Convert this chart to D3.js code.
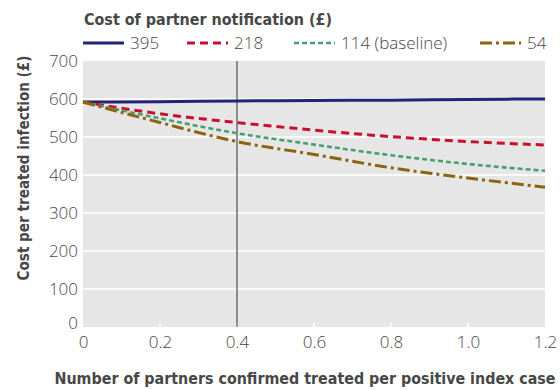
<!DOCTYPE html>
<html><head><meta charset="utf-8">
<script src="https://cdn.jsdelivr.net/npm/d3@7/dist/d3.min.js"></script>
<style>body{margin:0;background:#fff}</style>
</head><body><svg id="c" width="560" height="390"></svg>
<script>
const xValues = [0, 0.2, 0.4, 0.6, 0.8, 1.0, 1.2];
const cost395 = [592, 593, 595, 596, 597, 599, 600];
const cost218 = [592, 561, 538, 518, 501, 488, 479];
const cost114 = [592, 549, 510, 480, 452, 429, 411];
const cost54  = [592, 538, 488, 454, 419, 392, 368];
const seriesNames = ["395", "218", "114 (baseline)", "54"];
const xTicks = [0, 0.2, 0.4, 0.6, 0.8, 1.0, 1.2];
const xTickLabels = ["0", "0.2", "0.4", "0.6", "0.8", "1.0", "1.2"];
const yTicks = [0, 100, 200, 300, 400, 500, 600, 700];
const refLineX = 0.4;

const series = [
  {name: seriesNames[0], values: cost395, color: "#23237a", dash: null, width: 3},
  {name: seriesNames[1], values: cost218, color: "#c8102e", dash: "8,5", width: 3},
  {name: seriesNames[2], values: cost114, color: "#47a06e", dash: "5,3", width: 2.6},
  {name: seriesNames[3], values: cost54,  color: "#8b6410", dash: "12,4,3,4", width: 3}
];

const svg = d3.select("#c");
const x = d3.scaleLinear().domain([0, 1.2]).range([83, 545]);
const y = d3.scaleLinear().domain([0, 700]).range([327, 61]);
const txt = "#474747";
const font = "'Open Sans', sans-serif";
const bold = "'DejaVu Sans Condensed', 'DejaVu Sans', sans-serif";

svg.append("rect").attr("x", x(0)).attr("y", y(700)).attr("width", x(1.2) - x(0)).attr("height", y(0) - y(700)).attr("fill", "#e6e6e6");

// gridlines
svg.append("g").selectAll("line").data(yTicks.filter(d => d > 0 && d < 700)).join("line")
  .attr("x1", x(0)).attr("x2", x(1.2)).attr("y1", d => y(d)).attr("y2", d => y(d))
  .attr("stroke", "#fff").attr("stroke-width", 1.5);

// x tick marks (white, inside)
svg.append("g").selectAll("line").data(xTicks.filter(d => d > 0 && d < 1.2)).join("line")
  .attr("x1", d => x(d)).attr("x2", d => x(d)).attr("y1", y(0)).attr("y2", y(0) - 4)
  .attr("stroke", "#fff").attr("stroke-width", 1.5);

// reference line
svg.append("line").attr("x1", x(refLineX)).attr("x2", x(refLineX)).attr("y1", y(700)).attr("y2", y(0))
  .attr("stroke", "#333").attr("stroke-width", 1);

// axes labels via d3 axes
const xAxis = d3.axisBottom(x).tickValues(xTicks).tickFormat((d, i) => xTickLabels[i]).tickSize(0).tickPadding(9);
const gx = svg.append("g").attr("transform", `translate(0,${y(0)})`).call(xAxis);
gx.select(".domain").remove();
gx.selectAll("text").attr("font-family", font).attr("font-weight", 300).attr("font-size", 17).attr("fill", txt);

const yAxis = d3.axisLeft(y).tickValues(yTicks).tickSize(0).tickPadding(5);
const gy = svg.append("g").attr("transform", `translate(${x(0)},0)`).call(yAxis);
gy.select(".domain").remove();
gy.selectAll("text").attr("font-family", font).attr("font-weight", 300).attr("font-size", 17).attr("fill", txt);
gy.selectAll(".tick").filter(d => d === 0).select("text").attr("dy", "0.1em");

// lines
const line = d3.line().x((d, i) => x(xValues[i])).y(d => y(d)).curve(d3.curveMonotoneX);
svg.append("g").selectAll("path").data(series).join("path")
  .attr("d", d => line(d.values)).attr("fill", "none")
  .attr("stroke", d => d.color).attr("stroke-width", d => d.width)
  .attr("stroke-dasharray", d => d.dash);

// axis titles
svg.append("text").attr("transform", `translate(29,168) rotate(-90)`).attr("text-anchor", "middle")
  .attr("font-family", bold).attr("font-weight", "bold").attr("font-size", 16.5).attr("fill", txt)
  .attr("textLength", 225).attr("lengthAdjust", "spacingAndGlyphs")
  .text("Cost per treated infection (£)");
svg.append("text").attr("x", 305).attr("y", 384).attr("text-anchor", "middle")
  .attr("font-family", bold).attr("font-weight", "bold").attr("font-size", 16).attr("fill", txt)
  .attr("textLength", 501).attr("lengthAdjust", "spacingAndGlyphs")
  .text("Number of partners confirmed treated per positive index case");

// legend
svg.append("text").attr("x", 84).attr("y", 25)
  .attr("font-family", bold).attr("font-weight", "bold").attr("font-size", 16.5).attr("fill", txt)
  .attr("textLength", 248).attr("lengthAdjust", "spacingAndGlyphs")
  .text("Cost of partner notification (£)");
const legX = [83, 187, 294, 480];
const lg = svg.append("g").selectAll("g").data(series).join("g")
  .attr("transform", (d, i) => `translate(${legX[i]},43)`);
lg.append("line").attr("x1", 0).attr("x2", 41).attr("y1", 0).attr("y2", 0)
  .attr("stroke", d => d.color).attr("stroke-width", d => d.width).attr("stroke-dasharray", d => d.dash);
lg.append("text").attr("x", 47).attr("y", 0).attr("dy", "0.35em")
  .attr("font-family", font).attr("font-weight", 300).attr("font-size", 17).attr("fill", txt).text(d => d.name);
</script></body></html>
